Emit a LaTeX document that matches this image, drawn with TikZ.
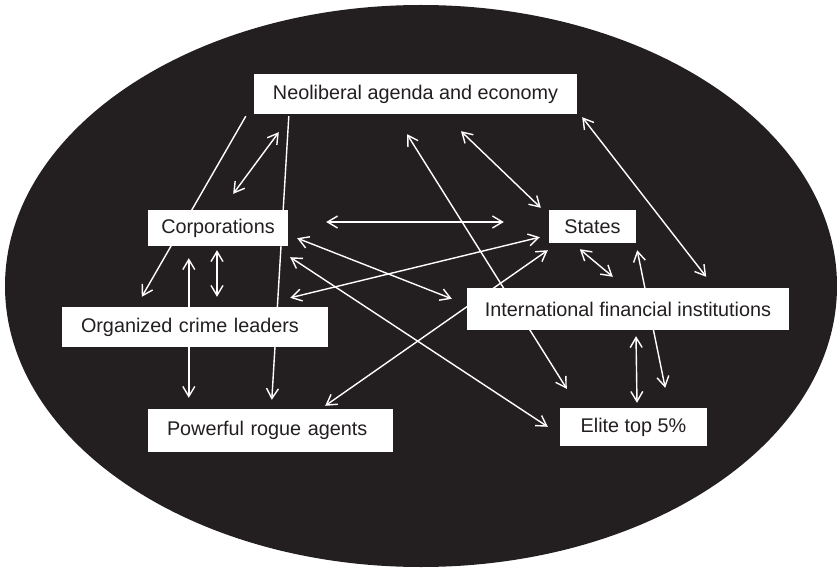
\documentclass[tikz,border=0pt]{standalone}
\usepackage{fontspec}
\setmainfont{Liberation Sans}
\usetikzlibrary{arrows.meta,calc,backgrounds}
\definecolor{ink}{HTML}{231F20}
\begin{document}
\begin{tikzpicture}[x=1pt,y=-1pt,
  >={Straight Barb[length=10pt,width=12pt]},
  box/.style={fill=white,inner sep=0pt,text=ink,
    font=\fontsize{19.8}{22}\selectfont},
  link/.style={draw=white,line width=1.4pt}]
\useasboundingbox (0,0) rectangle (837,569);

% dark oval backdrop
\begin{scope}[on background layer]
  \fill[ink] (421,286) ellipse [x radius=416, y radius=281];
\end{scope}

% actors
\node[box,minimum width=323pt,minimum height=40pt] (neo)    at (415.5,94)  {Neoliberal agenda and economy};
\node[box,minimum width=140pt,minimum height=36pt] (corp)   at (218,228)   {Corporations};
\node[box,minimum width=87pt, minimum height=33pt] (states) at (592.5,226.5) {States};
\node[box,minimum width=266pt,minimum height=40pt,text width=228pt,align=left,inner xsep=19pt] (ocl) at (195,327) {Organized crime leaders};
\node[box,minimum width=322pt,minimum height=42pt] (ifi)    at (628,309)   {International financial institutions};
\node[box,minimum width=245pt,minimum height=43pt,text width=207pt,align=left,inner xsep=19pt] (pra) at (270.5,430.5) {Powerful rogue agents};
\node[box,minimum width=147pt,minimum height=38pt] (elite)  at (633.5,427)  {Elite top 5\%};

% relations, passing behind the boxes
\begin{scope}[on background layer]
  \draw[link,->]  ($(neo.south west)+(-8,2)$)   -- ($(ocl.north west)+(80,-10)$);
  \draw[link,<->] ($(neo.south west)+(25,18)$)  -- ($(corp.north east)+(-55,-16)$);
  \draw[link,->]  ($(neo.south west)+(35,2)$)   -- ($(pra.north west)+(124,-9)$);
  \draw[link,<->] ($(corp.east)+(38,-6)$)       -- ($(states.west)+(-45,-4.5)$);
  \draw[link,<->] ($(corp.south east)+(9,-8)$)  -- ($(ifi.north west)+(-15,11)$);
  \draw[link,<->] ($(corp.south east)+(2,11)$)  -- ($(elite.north west)+(-12,19)$);
  \draw[link,<->] ($(ocl.north east)+(-38,-9)$) -- ($(states.south west)+(-9,-6)$);
  \draw[link,<->] ($(pra.north east)+(-68,-3)$) -- ($(states.south west)+(-1,7)$);
  \draw[link,<->] ($(neo.south)+(45.5,17)$)     -- ($(states.north west)+(-8,-2)$);
  \draw[link,<->] ($(neo.south)+(-8.5,20)$)     -- ($(elite.north west)+(7,-19)$);
  \draw[link,<->] ($(neo.south east)+(5,3)$)    -- ($(ifi.north east)+(-83,-11)$);
  \draw[link,<->] ($(states.south west)+(31,6)$) -- ($(ifi.north west)+(146,-11)$);
  \draw[link,<->] ($(ifi.south)+(8,6)$)         -- ($(elite.north)+(3.5,-5)$);
  \draw[link,<->] ($(states.south east)+(1,7)$) -- ($(elite.north east)+(-42,-20)$);
  \draw[link,<->] ($(corp.south)+(-1,4)$)       -- ($(ocl.north)+(22,-10)$);
  \draw[link,<->] ($(corp.south west)+(41,12)$) -- ($(pra.north west)+(41,-11)$);
\end{scope}
\end{tikzpicture}
\end{document}
